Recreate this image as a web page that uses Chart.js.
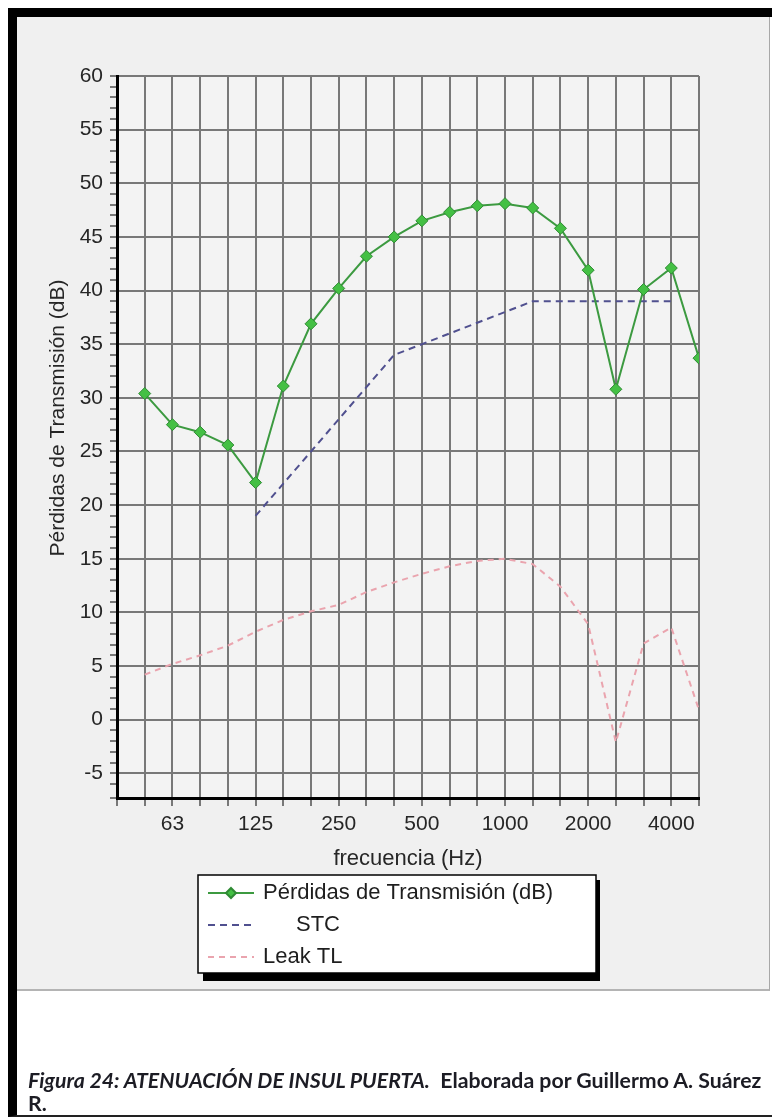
<!DOCTYPE html>
<html>
<head>
<meta charset="utf-8">
<script src="https://cdn.jsdelivr.net/npm/chart.js@4"></script>
<style>
  html, body { margin: 0; padding: 0; background: #fff; width: 772px; height: 1118px; overflow: hidden; }
  #frame { position: absolute; left: 8px; top: 8px; width: 800px; height: 1098px;
           border-left: 9px solid #000; border-top: 9px solid #000; border-bottom: 2px solid #222; }
  #panel { position: absolute; left: 17px; top: 17px; width: 752px; height: 972px;
           background: #f0f0f0; border-bottom: 2px solid #b4b4b4; border-right: 1px solid #a8a8a8; }
  #c { position: absolute; left: 0; top: 0; }
  #caption { position: absolute; left: 28px; top: 1069px; white-space: nowrap;
             font-family: Lato, "Open Sans", sans-serif; font-weight: bold; color: #1c1c24;
             font-size: 19px; line-height: 23px; }
  #caption i { font-style: italic; }
</style>
</head>
<body>
<div id="frame"></div>
<div id="panel"></div>
<canvas id="c" width="772" height="1118"></canvas>
<div id="caption"><span id="line1"><i>Figura 24: ATENUACIÓN DE INSUL PUERTA.</i>&nbsp; Elaborada por Guillermo A. Suárez</span><br>R.</div>
<script>
// 1/3 octave bands
const bands = ['50','63','80','100','125','160','200','250','315','400','500','630','800','1000','1250','1600','2000','2500','3150','4000','5000'];
const tickLabels = ['63','125','250','500','1000','2000','4000'];

const seriesNames = ['Pérdidas de Transmisión (dB)', 'STC', 'Leak TL'];
const tlValues   = [30.4, 27.5, 26.8, 25.6, 22.1, 31.1, 36.9, 40.2, 43.2, 45.0, 46.5, 47.3, 47.9, 48.1, 47.7, 45.8, 41.9, 30.8, 40.1, 42.1, 33.7];
const stcValues  = [null, null, null, null, 19, 22, 25, 28, 31, 34, 35, 36, 37, 38, 39, 39, 39, 39, 39, 39, null];
const leakValues = [4.2, 5.2, 6.0, 6.9, 8.2, 9.3, 10.1, 10.7, 11.9, 12.8, 13.6, 14.3, 14.8, 15.0, 14.5, 12.4, 8.9, -2.1, 7.1, 8.6, 0.9];

function toPoints(vals) {
  return vals.map((v, i) => ({x: i, y: v})).filter(p => p.y !== null);
}

const GRID = '#787878';
const TXT = '#262626';

const plotBg = {
  id: 'plotBg',
  beforeDraw(chart) {
    const {ctx, chartArea: a} = chart;
    ctx.save();
    ctx.fillStyle = '#f3f3f3';
    ctx.fillRect(a.left, a.top, a.right - a.left, a.bottom - a.top);
    ctx.restore();
  }
};

const yTitle = {
  id: 'yTitle',
  afterDraw(chart) {
    const ctx = chart.ctx;
    ctx.save();
    ctx.translate(58, 418);
    ctx.rotate(-Math.PI / 2);
    ctx.font = '21px "Liberation Sans", Arial, sans-serif';
    ctx.fillStyle = TXT;
    ctx.textAlign = 'center';
    ctx.textBaseline = 'middle';
    ctx.fillText(seriesNames[0], 0, 0);
    ctx.restore();
  }
};

// boxed legend with drop shadow, like the original control
const boxLegend = {
  id: 'boxLegend',
  afterDraw(chart) {
    const ctx = chart.ctx;
    const indent = [0, 33, 0];
    ctx.save();
    ctx.fillStyle = '#000';
    ctx.fillRect(203, 880, 397, 101);
    ctx.fillStyle = '#fff';
    ctx.fillRect(198, 875, 398, 98);
    ctx.strokeStyle = '#000';
    ctx.lineWidth = 1.5;
    ctx.strokeRect(198, 875, 398, 98);
    chart.data.datasets.forEach((ds, i) => {
      const y = 893 + i * 32;
      ctx.strokeStyle = ds.borderColor;
      ctx.lineWidth = 2;
      ctx.setLineDash(ds.borderDash || []);
      ctx.beginPath();
      ctx.moveTo(208, y);
      ctx.lineTo(254, y);
      ctx.stroke();
      ctx.setLineDash([]);
      if (ds.pointRadius) {
        ctx.fillStyle = ds.pointBackgroundColor;
        ctx.strokeStyle = ds.pointBorderColor;
        ctx.beginPath();
        ctx.moveTo(231, y - 5); ctx.lineTo(236, y); ctx.lineTo(231, y + 5); ctx.lineTo(226, y);
        ctx.closePath();
        ctx.fill();
        ctx.stroke();
      }
      ctx.fillStyle = '#1e1e1e';
      ctx.font = '22px "Liberation Sans", Arial, sans-serif';
      ctx.textBaseline = 'middle';
      ctx.fillText(ds.label, 263 + indent[i], y);
    });
    ctx.restore();
  }
};

new Chart(document.getElementById('c'), {
  type: 'line',
  data: {
    datasets: [{
      label: seriesNames[0],
      data: toPoints(tlValues),
      borderColor: '#3c9a40',
      borderWidth: 2,
      pointStyle: 'rectRot',
      pointRadius: 6,
      pointBackgroundColor: '#44c044',
      pointBorderColor: '#2f8a34',
      pointBorderWidth: 1
    }, {
      label: seriesNames[1],
      data: toPoints(stcValues),
      borderColor: '#50508f',
      borderWidth: 2,
      borderDash: [7, 5],
      pointRadius: 0
    }, {
      label: seriesNames[2],
      data: toPoints(leakValues),
      borderColor: '#eaa4ae',
      borderWidth: 2,
      borderDash: [6, 5],
      pointRadius: 0
    }]
  },
  options: {
    responsive: false,
    devicePixelRatio: 1,
    animation: false,
    layout: { padding: { left: 30, top: 76, right: 73, bottom: 246 } },
    plugins: { legend: { display: false }, tooltip: { enabled: false } },
    scales: {
      x: {
        type: 'linear',
        min: -1,
        max: 20,
        afterFit: s => { s.height = 74; },
        border: { color: '#000', width: 3 },
        grid: {
          color: c => (c.tick && c.tick.value === -1) ? 'rgba(0,0,0,0)' : GRID,
          tickColor: GRID,
          lineWidth: 2,
          tickLength: 8
        },
        ticks: {
          stepSize: 1,
          autoSkip: false,
          maxRotation: 0,
          padding: 6,
          color: TXT,
          font: { family: '"Liberation Sans", Arial, sans-serif', size: 21 },
          callback: v => (tickLabels.includes(bands[v]) ? bands[v] : '')
        },
        title: {
          display: true,
          text: 'frecuencia (Hz)',
          color: TXT,
          padding: 0,
          font: { family: '"Liberation Sans", Arial, sans-serif', size: 22 }
        }
      },
      y: {
        min: -7.3,
        max: 60,
        afterFit: s => { s.width = 87; },
        border: { color: '#000', width: 3 },
        grid: {
          color: c => (c.tick && Math.abs(c.tick.value % 5) < 1e-6) ? GRID : 'rgba(0,0,0,0)',
          tickColor: GRID,
          lineWidth: 2,
          tickLength: 7
        },
        ticks: {
          stepSize: 1,
          autoSkip: false,
          padding: 7,
          color: TXT,
          font: { family: '"Liberation Sans", Arial, sans-serif', size: 21 },
          callback: v => (Math.abs(v % 5) < 1e-6 ? v : '')
        }
      }
    }
  },
  plugins: [plotBg, yTitle, boxLegend]
});

// fit caption line to the width it has in the figure
const cap = document.getElementById('caption');
const w = document.getElementById('line1').getBoundingClientRect().width;
cap.style.fontSize = (19 * 734 / w).toFixed(2) + 'px';
</script>
</body>
</html>
